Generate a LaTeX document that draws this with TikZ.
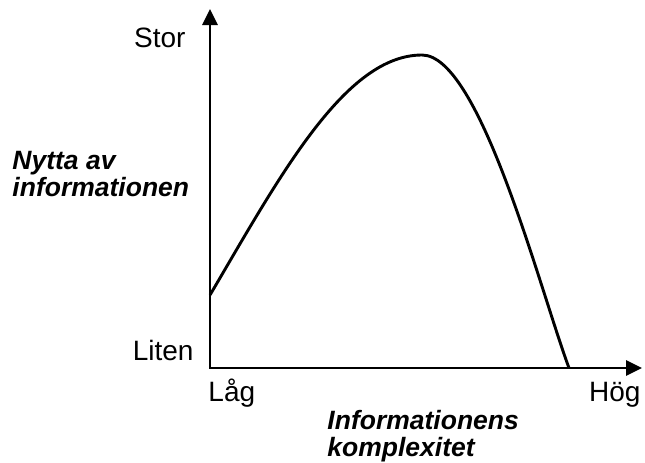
\documentclass[tikz,border=0pt]{standalone}
\usepackage{fontspec}
\setmainfont{Liberation Sans}
\usetikzlibrary{arrows.meta}

\begin{document}
\begin{tikzpicture}[x=1pt,y=-1pt,line width=2.9pt,
  tick/.style={inner sep=0pt,font=\fontsize{28}{32}\selectfont},
  title/.style={inner sep=0pt,align=left,font=\fontsize{26.5}{27}\selectfont\bfseries\itshape}]
\useasboundingbox (0,0) rectangle (645,463);
\coordinate (o) at (210,368);\coordinate (ytop) at (210,9);\coordinate (xend) at (642,368);
\draw[{Triangle[length=16pt,width=15pt]}-{Triangle[length=16pt,width=15pt]}] (ytop)--(o)--(xend);
% kurvan
\coordinate (start) at (210,295);\coordinate (peak) at (422,55);\coordinate (stop) at (569,368);
\draw (start) .. controls (280,176) and (345,55) .. (peak) .. controls (480,55) and (540,290) .. (stop);
% texter
\node[tick,anchor=base east] (stor) at (187,47) {Stor};
\node[tick,anchor=base east] (liten) at (195,360) {Liten};
\node[tick,anchor=base west] (lag) at (207,401) {Låg};
\node[tick,anchor=base east] (hog) at (642,401) {Hög};
\node[title,anchor=base west] (nytta) at (11,196) {Nytta av\\informationen};
\node[title,anchor=base west] (komplex) at (326,456) {Informationens\\komplexitet};
\end{tikzpicture}
\end{document}
